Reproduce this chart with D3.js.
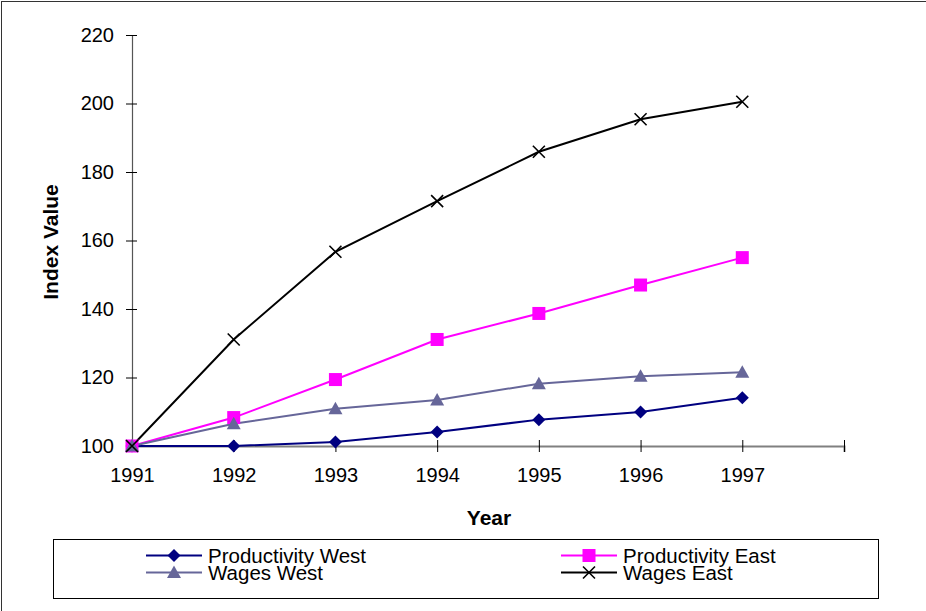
<!DOCTYPE html>
<html>
<head>
<meta charset="utf-8">
<script src="https://cdn.jsdelivr.net/npm/d3@7"></script>
<style>
  body { margin: 0; background: #fff; }
  svg { display: block; font-family: "Liberation Sans", Arial, sans-serif; }
</style>
</head>
<body>
<div id="chart"></div>
<script>
var svgWidth = 926;
var svgHeight = 611;

// chart data
var years = ["1991", "1992", "1993", "1994", "1995", "1996", "1997"];
var productivityWest = [100, 100, 101.2, 104.1, 107.7, 109.9, 114.1];
var productivityEast = [100, 108.3, 119.4, 131.1, 138.7, 147.0, 155.0];
var wagesWest = [100, 106.5, 110.9, 113.4, 118.2, 120.4, 121.5];
var wagesEast = [100, 131.1, 156.7, 171.5, 185.9, 195.4, 200.5];
var yTicks = [100, 120, 140, 160, 180, 200, 220];

var series = [
  { name: "Productivity West", values: productivityWest, color: "#000080", marker: "diamond" },
  { name: "Productivity East", values: productivityEast, color: "#FF00FF", marker: "square" },
  { name: "Wages West", values: wagesWest, color: "#666699", marker: "triangle" },
  { name: "Wages East", values: wagesEast, color: "#000000", marker: "cross" }
];

var plot = { left: 132, right: 844, top: 35, bottom: 446 };

var svg = d3.select("#chart")
  .append("svg")
  .attr("width", svgWidth)
  .attr("height", svgHeight);

// outer frame (right and bottom edges fall outside the picture)
svg.append("rect")
  .attr("x", 1.5).attr("y", 1.5)
  .attr("width", svgWidth + 10).attr("height", svgHeight + 10)
  .attr("fill", "none")
  .attr("stroke", "#333")
  .attr("stroke-width", 1);

// scales - one empty slot after the last year, like the original
var xScale = d3.scaleLinear()
  .domain([0, years.length])
  .range([plot.left, plot.right]);

var yScale = d3.scaleLinear()
  .domain([100, 220])
  .range([plot.bottom, plot.top]);

// y axis
var yAxis = svg.append("g")
  .attr("transform", `translate(${plot.left}, 0)`)
  .call(d3.axisLeft(yScale).tickValues(yTicks).tickSize(6).tickPadding(12));
yAxis.select(".domain").attr("stroke", "#555").attr("stroke-width", 1.2);
yAxis.selectAll(".tick line").attr("x1", 5).attr("x2", -6).attr("stroke", "#000");
yAxis.selectAll(".tick text")
  .attr("font-size", "20px")
  .attr("font-family", "Liberation Sans, Arial, sans-serif")
  .attr("fill", "#000");

// x axis
var xAxis = svg.append("g")
  .attr("transform", `translate(0, ${plot.bottom})`)
  .call(d3.axisBottom(xScale)
    .tickValues(d3.range(0, years.length + 1))
    .tickFormat(i => years[i] || "")
    .tickSize(6)
    .tickPadding(16));
xAxis.select(".domain").attr("stroke", "#808080").attr("stroke-width", 2);
xAxis.selectAll(".tick line").attr("y1", -6).attr("y2", 6).attr("stroke", "#000");
xAxis.selectAll(".tick text")
  .attr("font-size", "20px")
  .attr("font-family", "Liberation Sans, Arial, sans-serif")
  .attr("fill", "#000");

// axis titles
svg.append("text")
  .attr("x", 489)
  .attr("y", 525)
  .attr("text-anchor", "middle")
  .attr("font-size", "21px")
  .attr("font-weight", "bold")
  .text("Year");

svg.append("text")
  .attr("transform", "translate(58, 242) rotate(-90)")
  .attr("text-anchor", "middle")
  .attr("font-size", "21px")
  .attr("font-weight", "bold")
  .text("Index Value");

// marker drawing
function drawMarker(g, type, color) {
  if (type === "diamond") {
    g.append("path").attr("d", "M0,-6.5L6.5,0L0,6.5L-6.5,0Z").attr("fill", color);
  } else if (type === "square") {
    g.append("rect").attr("x", -6.5).attr("y", -6.5).attr("width", 13).attr("height", 13).attr("fill", color);
  } else if (type === "triangle") {
    g.append("path").attr("d", "M0,-7L7,5.5L-7,5.5Z").attr("fill", color);
  } else {
    g.append("path").attr("d", "M-6,-6L6,6M-6,6L6,-6")
      .attr("stroke", color).attr("stroke-width", 1.6).attr("fill", "none");
  }
}

var line = d3.line()
  .x((d, i) => xScale(i))
  .y(d => yScale(d));

// lines
series.forEach(function(s) {
  svg.append("path")
    .datum(s.values)
    .attr("d", line)
    .attr("fill", "none")
    .attr("stroke", s.color)
    .attr("stroke-width", 2);
});

// markers
series.forEach(function(s) {
  s.values.forEach(function(v, i) {
    var g = svg.append("g").attr("transform", `translate(${xScale(i)}, ${yScale(v)})`);
    drawMarker(g, s.marker, s.color);
  });
});

// legend
svg.append("rect")
  .attr("x", 53.5).attr("y", 539.5)
  .attr("width", 825).attr("height", 59)
  .attr("fill", "#fff")
  .attr("stroke", "#000")
  .attr("stroke-width", 1);

var legendPos = [
  { x: 146, y: 555.5 },
  { x: 561, y: 555.5 },
  { x: 146, y: 572.5 },
  { x: 561, y: 572.5 }
];

series.forEach(function(s, i) {
  var p = legendPos[i];
  var g = svg.append("g").attr("transform", `translate(${p.x}, ${p.y})`);
  g.append("line")
    .attr("x1", 0).attr("x2", 56)
    .attr("stroke", s.color).attr("stroke-width", 2);
  drawMarker(g.append("g").attr("transform", "translate(28, 0)"), s.marker, s.color);
  g.append("text")
    .attr("x", 62)
    .attr("y", 7)
    .attr("font-size", "20.5px")
    .text(s.name);
});
</script>
</body>
</html>
